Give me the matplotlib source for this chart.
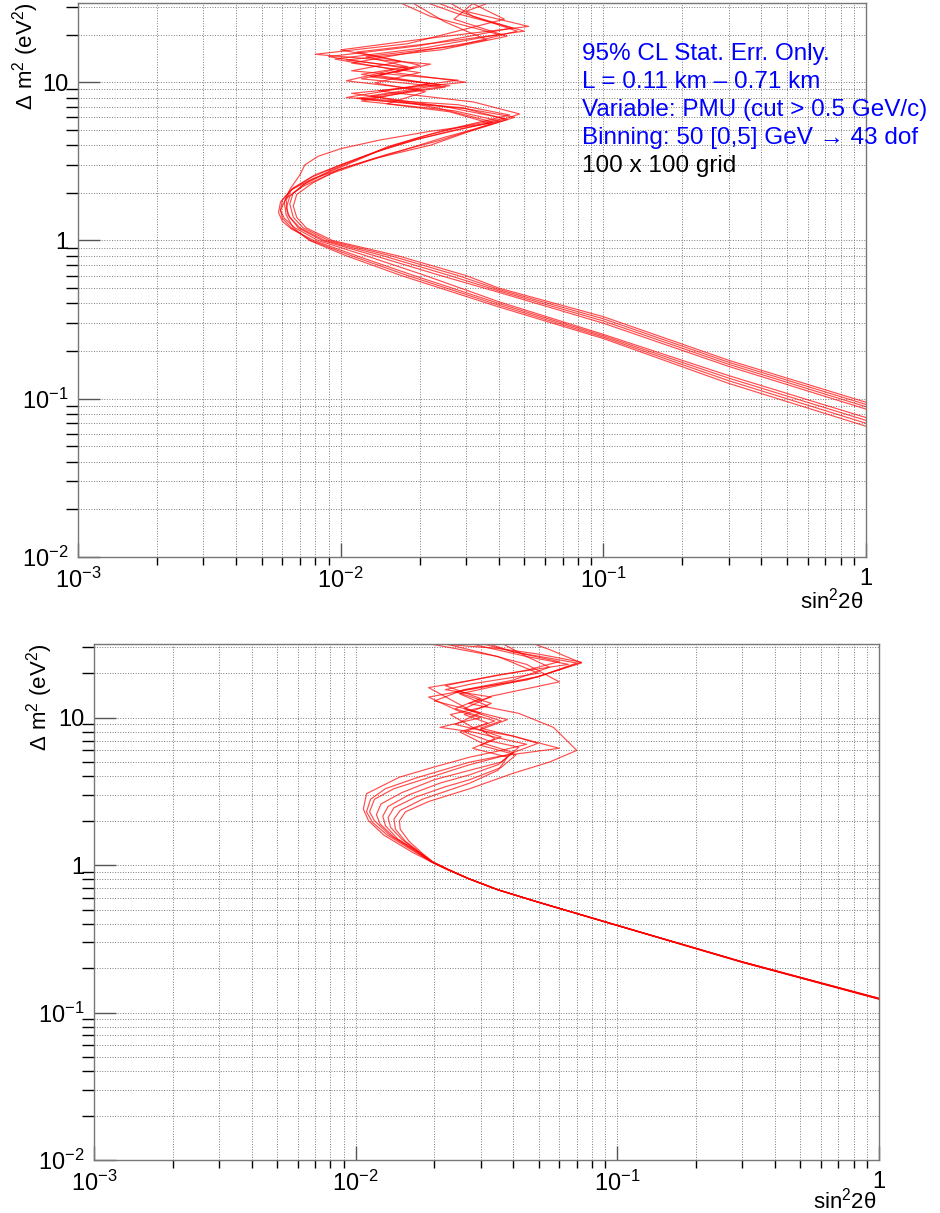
import matplotlib
matplotlib.use("Agg")
import matplotlib.pyplot as plt
from matplotlib.ticker import LogLocator, NullFormatter

plt.rcParams["font.family"] = ["Liberation Sans", "DejaVu Sans"]
plt.rcParams["mathtext.fontset"] = "custom"
plt.rcParams["mathtext.rm"] = "Liberation Sans"
plt.rcParams["mathtext.it"] = "Liberation Sans:italic"

# axis ticks
x_ticks = [1e-3, 1e-2, 1e-1, 1]
x_tick_labels = ["$10^{-3}$", "$10^{-2}$", "$10^{-1}$", "1"]
y_ticks = [1e-2, 1e-1, 1, 10]
y_tick_labels = ["$10^{-2}$", "$10^{-1}$", "1", "10"]

# top panel contours (sin^2 2theta, dm^2)
top_x = [
    [1.0, 0.3, 0.1, 0.04, 0.03, 0.0165, 0.0093, 0.0074, 0.0068, 0.0066, 0.0068, 0.0078, 0.0098, 0.0135, 0.022, 0.03, 0.046,
     0.03, 0.012, 0.025, 0.012, 0.018, 0.009, 0.02, 0.045, 0.028, 0.02],
    [1.0, 0.3, 0.1, 0.04, 0.028, 0.0155, 0.009, 0.0072, 0.0066, 0.0064, 0.0066, 0.0075, 0.0093, 0.0118, 0.016, 0.024, 0.044,
     0.028, 0.0105, 0.022, 0.014, 0.02, 0.0115, 0.025, 0.05, 0.032, 0.025],
    [1.0, 0.3, 0.1, 0.04, 0.026, 0.0145, 0.0087, 0.007, 0.0064, 0.0062, 0.0064, 0.0072, 0.009, 0.0115, 0.015, 0.021, 0.03, 0.042,
     0.025, 0.011, 0.03, 0.016, 0.022, 0.008, 0.018, 0.042, 0.035, 0.03],
    [1.0, 0.3, 0.1, 0.04, 0.024, 0.0135, 0.0085, 0.0069, 0.0063, 0.0062, 0.0065, 0.0078, 0.0105, 0.015, 0.024, 0.033, 0.048,
     0.032, 0.014, 0.028, 0.011, 0.017, 0.01, 0.022, 0.052, 0.03, 0.039],
    [1.0, 0.3, 0.1, 0.04, 0.021, 0.0125, 0.0082, 0.0067, 0.0061, 0.0059, 0.006, 0.0066, 0.008, 0.0105, 0.014, 0.02, 0.028, 0.04,
     0.027, 0.012, 0.02, 0.0105, 0.016, 0.0095, 0.021, 0.04, 0.022, 0.016],
    [1.0, 0.3, 0.1, 0.04, 0.019, 0.0115, 0.0079, 0.0065, 0.006, 0.0058, 0.0059, 0.0064, 0.0077, 0.01, 0.0135, 0.019, 0.026, 0.038,
     0.024, 0.013, 0.024, 0.012, 0.018, 0.0125, 0.028, 0.047, 0.03, 0.022],
    [1.0, 0.3, 0.1, 0.04, 0.018, 0.011, 0.0077, 0.0065, 0.006, 0.0059, 0.0062, 0.0072, 0.0092, 0.0125, 0.018, 0.025, 0.033, 0.043,
     0.029, 0.0115, 0.026, 0.013, 0.019, 0.0105, 0.024, 0.043, 0.027, 0.033],
    [1.0, 0.3, 0.1, 0.04, 0.017, 0.0105, 0.0076, 0.0066, 0.0062, 0.0061, 0.0064, 0.007, 0.0073, 0.0082, 0.01, 0.014, 0.022, 0.037,
     0.026, 0.015, 0.021, 0.0135, 0.02, 0.011, 0.019, 0.036, 0.025, 0.018],
]
top_y = [
    [0.095, 0.175, 0.33, 0.5, 0.6, 0.8, 1.0, 1.2, 1.4, 1.65, 1.95, 2.3, 2.8, 3.3, 4.0, 4.8, 6.0,
     6.8, 7.8, 9.3, 10.5, 12.2, 14.5, 17, 22, 27, 33],
    [0.092, 0.17, 0.32, 0.49, 0.6, 0.8, 1.0, 1.2, 1.4, 1.7, 2.0, 2.35, 2.8, 3.3, 4.0, 4.9, 6.2,
     7.2, 8.0, 9.8, 11.0, 12.8, 15.5, 18, 21, 26, 33],
    [0.089, 0.165, 0.31, 0.48, 0.6, 0.8, 1.0, 1.2, 1.4, 1.6, 1.9, 2.25, 2.7, 3.2, 3.9, 4.6, 5.3, 5.9,
     7.0, 8.5, 10.0, 11.5, 13.0, 15.0, 17.5, 25, 29, 33],
    [0.086, 0.16, 0.30, 0.47, 0.6, 0.8, 1.0, 1.2, 1.45, 1.8, 2.1, 2.45, 2.9, 3.5, 4.3, 5.1, 6.3,
     7.5, 8.8, 10.3, 11.8, 13.5, 16, 19, 22.5, 28, 33],
    [0.076, 0.14, 0.255, 0.41, 0.6, 0.8, 1.0, 1.2, 1.38, 1.55, 1.8, 2.15, 2.6, 3.1, 3.7, 4.4, 5.0, 5.7,
     6.6, 7.6, 9.0, 10.2, 12.0, 14.0, 16.5, 20, 26, 33],
    [0.073, 0.135, 0.25, 0.40, 0.6, 0.8, 1.0, 1.18, 1.32, 1.5, 1.75, 2.05, 2.5, 3.0, 3.6, 4.3, 4.9, 5.6,
     6.8, 8.2, 9.6, 11.2, 12.5, 14.5, 17, 21, 27, 33],
    [0.070, 0.13, 0.245, 0.39, 0.6, 0.8, 1.0, 1.2, 1.38, 1.55, 1.85, 2.2, 2.65, 3.15, 3.8, 4.5, 5.1, 5.8,
     6.9, 7.9, 9.5, 10.8, 12.3, 13.8, 16, 19.5, 25, 33],
    [0.067, 0.125, 0.24, 0.38, 0.6, 0.8, 1.0, 1.2, 1.45, 1.75, 2.1, 2.6, 3.0, 3.4, 3.8, 4.3, 4.9, 5.5,
     6.5, 7.3, 8.7, 9.9, 11.5, 13.2, 15.5, 18.5, 24, 33],
]

# bottom panel contours
bot_x = [
    [1.0, 0.3, 0.1, 0.05, 0.035, 0.027, 0.0225, 0.0195, 0.0165, 0.0128, 0.0112, 0.0107, 0.011, 0.0147, 0.0197, 0.0273,
     0.036, 0.045, 0.035, 0.028, 0.021, 0.03, 0.025, 0.019, 0.03, 0.05, 0.073, 0.05, 0.035, 0.0154],
    [1.0, 0.3, 0.1, 0.05, 0.035, 0.027, 0.0225, 0.0195, 0.0168, 0.0135, 0.0118, 0.0113, 0.0118, 0.014, 0.018, 0.0273,
     0.038, 0.0497, 0.04, 0.03, 0.036, 0.028, 0.019, 0.028, 0.045, 0.06, 0.04, 0.03],
    [1.0, 0.3, 0.1, 0.05, 0.035, 0.027, 0.0226, 0.0196, 0.017, 0.014, 0.0124, 0.012, 0.0125, 0.015, 0.02, 0.0273,
     0.036, 0.042, 0.032, 0.026, 0.034, 0.024, 0.03, 0.022, 0.035, 0.065, 0.045, 0.025],
    [1.0, 0.3, 0.1, 0.05, 0.035, 0.027, 0.0226, 0.0196, 0.0172, 0.0145, 0.013, 0.0127, 0.0133, 0.016, 0.021, 0.0273,
     0.035, 0.04, 0.03, 0.025, 0.032, 0.026, 0.033, 0.024, 0.04, 0.055, 0.045, 0.035],
    [1.0, 0.3, 0.1, 0.05, 0.035, 0.027, 0.0227, 0.0197, 0.0175, 0.015, 0.0136, 0.0133, 0.014, 0.017, 0.022, 0.0273,
     0.036, 0.041, 0.03, 0.036, 0.028, 0.023, 0.032, 0.025, 0.05, 0.07, 0.04, 0.028],
    [1.0, 0.3, 0.1, 0.05, 0.035, 0.027, 0.0227, 0.0197, 0.0178, 0.0155, 0.0142, 0.014, 0.0148, 0.018, 0.0273,
     0.035, 0.038, 0.028, 0.034, 0.03, 0.038, 0.026, 0.033, 0.06, 0.045, 0.032, 0.02],
    [1.0, 0.3, 0.1, 0.05, 0.035, 0.027, 0.0228, 0.0198, 0.018, 0.016, 0.0148, 0.0147, 0.0155, 0.019, 0.0273,
     0.04, 0.055, 0.07, 0.057, 0.042, 0.0326, 0.027, 0.033, 0.022, 0.028, 0.05, 0.035, 0.017],
    [1.0, 0.3, 0.1, 0.05, 0.035, 0.027, 0.0225, 0.0195, 0.0166, 0.0132, 0.0116, 0.011, 0.0114, 0.013, 0.017, 0.0273,
     0.036, 0.06, 0.04, 0.03, 0.024, 0.03, 0.02, 0.026, 0.045, 0.073, 0.055, 0.045],
]
bot_y = [
    [0.124, 0.22, 0.39, 0.56, 0.68, 0.81, 0.93, 1.05, 1.22, 1.6, 2.0, 2.4, 3.05, 3.95, 4.6, 5.4,
     6.0, 6.6, 7.3, 8.0, 8.6, 10, 11, 13.8, 16, 19, 23.8, 27, 29.5, 33],
    [0.125, 0.221, 0.391, 0.561, 0.681, 0.812, 0.932, 1.052, 1.25, 1.6, 2.0, 2.3, 2.8, 3.3, 3.8, 4.8,
     5.6, 6.7, 7.5, 8.5, 9.5, 11, 16, 18, 21, 24, 28, 33],
    [0.123, 0.219, 0.389, 0.559, 0.679, 0.809, 0.929, 1.049, 1.25, 1.55, 1.9, 2.2, 2.6, 3.1, 3.8, 4.4,
     5.0, 6.3, 7.0, 8.0, 9.5, 11.5, 13.5, 16.5, 19.5, 23, 26, 33],
    [0.124, 0.22, 0.39, 0.56, 0.68, 0.81, 0.93, 1.05, 1.25, 1.5, 1.85, 2.15, 2.5, 3.0, 3.6, 4.1,
     4.8, 5.8, 6.8, 8.0, 9.2, 10.5, 12.5, 15, 18, 22, 26, 33],
    [0.124, 0.221, 0.39, 0.56, 0.68, 0.81, 0.93, 1.05, 1.22, 1.5, 1.8, 2.1, 2.45, 2.9, 3.4, 3.8,
     4.6, 5.6, 6.5, 7.4, 8.6, 10.5, 12, 14.5, 19, 23.5, 28, 33],
    [0.125, 0.221, 0.39, 0.56, 0.68, 0.81, 0.93, 1.05, 1.2, 1.45, 1.75, 2.05, 2.35, 2.8, 3.6,
     4.4, 5.4, 6.2, 7.2, 8.3, 9.7, 11.5, 14, 17.5, 23, 27, 33],
    [0.124, 0.22, 0.389, 0.559, 0.679, 0.809, 0.929, 1.049, 1.2, 1.45, 1.75, 2.0, 2.3, 2.7, 3.3,
     4.2, 5.0, 6.0, 8.6, 10.7, 11.7, 12.5, 13.8, 15.5, 17, 20, 26, 33],
    [0.124, 0.22, 0.39, 0.56, 0.68, 0.81, 0.93, 1.05, 1.25, 1.6, 1.95, 2.3, 2.8, 3.3, 3.9, 5.0,
     5.5, 6.2, 7.5, 8.2, 9.0, 10.8, 13.0, 15.5, 18, 23.5, 29, 33],
]

info_lines = [
    "95% CL Stat. Err. Only.",
    "L = 0.11 km \u2013 0.71 km",
    "Variable: PMU (cut > 0.5 GeV/c)",
    "Binning: 50 [0,5] GeV \u2192 43 dof",
    "100 x 100 grid",
]
info_colors = ["blue", "blue", "blue", "blue", "black"]


def style_axes(ax):
    ax.set_xscale("log")
    ax.set_yscale("log")
    ax.set_xlim(1e-3, 1)
    ax.set_ylim(1e-2, 10 ** 1.5)
    ax.set_xticks(x_ticks)
    ax.set_xticklabels(x_tick_labels)
    ax.set_yticks(y_ticks)
    ax.set_yticklabels(y_tick_labels)
    ax.xaxis.set_minor_locator(LogLocator(base=10, subs=range(2, 10)))
    ax.yaxis.set_minor_locator(LogLocator(base=10, subs=range(2, 10)))
    ax.xaxis.set_minor_formatter(NullFormatter())
    ax.yaxis.set_minor_formatter(NullFormatter())
    ax.grid(True, which="both", linestyle=":", color="#7a7a7a", linewidth=0.7)
    ax.tick_params(direction="in", colors="#555555", labelcolor="black",
                   labelsize=17, top=False, right=False)
    ax.tick_params(axis="y", which="major", length=16, width=1, pad=7)
    ax.tick_params(axis="y", which="minor", length=8.5, width=1)
    ax.tick_params(axis="x", which="major", length=10, width=1, pad=8)
    ax.tick_params(axis="x", which="minor", length=5.5, width=1)
    for sp in ax.spines.values():
        sp.set_color("#777777")
        sp.set_linewidth(1.0)
    ax.text(0.997, -0.078, "sin$^{2}$2\u03b8", transform=ax.transAxes,
            ha="right", va="center", fontsize=16)


fig = plt.figure(figsize=(9.4, 12.13), dpi=100)
ax1 = fig.add_axes([0.083, 0.5408, 0.8383, 0.4567])
ax2 = fig.add_axes([0.100, 0.0437, 0.8351, 0.4254])

for xs, ys in zip(top_x, top_y):
    ax1.plot(xs, ys, color="red", linewidth=0.85, alpha=0.7)
for xs, ys in zip(bot_x, bot_y):
    ax2.plot(xs, ys, color="red", linewidth=0.85, alpha=0.7)

style_axes(ax1)
style_axes(ax2)

ax1.text(-0.067, 1.0, "\u0394 m$^{2}$ (eV$^{2}$)", transform=ax1.transAxes,
         rotation=90, ha="center", va="top", fontsize=16)
ax2.text(-0.069, 1.0, "\u0394 m$^{2}$ (eV$^{2}$)", transform=ax2.transAxes,
         rotation=90, ha="center", va="top", fontsize=16)

line_y = [0.908, 0.8574, 0.8069, 0.7563, 0.7058]
for txt, col, yy in zip(info_lines, info_colors, line_y):
    ax1.text(0.6396, yy, txt, transform=ax1.transAxes, color=col,
             ha="left", va="center", fontsize=17.5)

fig.savefig("out.png", dpi=100)
